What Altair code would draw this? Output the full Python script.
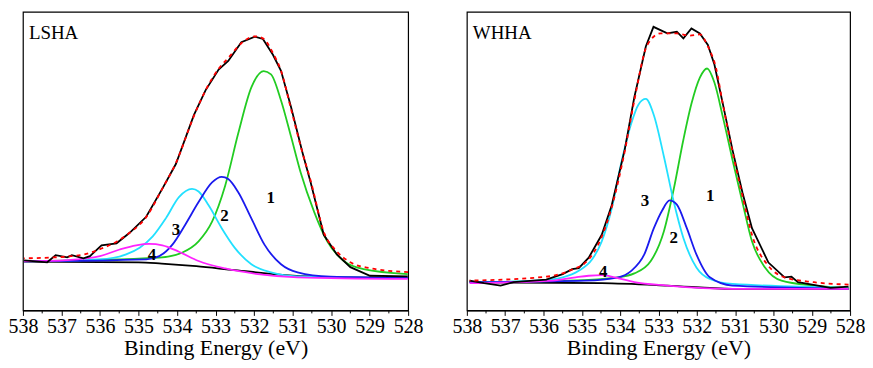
import altair as alt
import pandas as pd

# ---------------- LSHA (left panel) ----------------
ls_exp_E = [537.97, 537.37, 537.15, 536.85, 536.73, 536.43, 536.26, 535.96, 535.57, 535.23, 534.80,
            534.38, 534.03, 533.56, 533.26, 532.92, 532.67, 532.33, 531.98, 531.77, 531.51, 531.30,
            531.04, 530.74, 530.53, 530.19, 529.85, 529.50, 528.99, 528.01]
ls_exp_I = [51, 49, 56.3, 54, 56.3, 53, 55.3, 66.3, 68.3, 79, 95.3,
            124, 149, 199, 224, 245.3, 254, 273, 278.7, 276.3, 260.3, 244,
            207, 160.3, 130.3, 77, 57, 44, 35.3, 34.7]
ls_fit_E = [537.97, 536.8, 536.4, 535.96, 535.57, 535.23, 534.8, 534.38, 534.03, 533.56, 533.26,
            532.92, 532.67, 532.33, 531.98, 531.77, 531.51, 531.30, 531.04, 530.74, 530.53, 530.19,
            529.85, 529.5, 529.0, 528.0]
ls_fit_I = [53, 55, 57, 63, 70, 79, 95, 124, 150, 198, 224,
            246, 257, 272, 279, 277, 262, 244, 205, 160, 132, 80,
            60, 49, 43, 39]
ls_bg_E = [537.97, 535.0, 534.4, 533.5, 532.5, 531.0, 530.0, 528.0]
ls_bg_I = [49.7, 49, 47.7, 45, 41, 35.5, 34, 33]
ls_p1_E = [537.97, 534.46, 533.86, 533.44, 533.09, 532.75, 532.41, 532.07, 531.75, 531.56, 531.30,
           531.04, 530.79, 530.44, 530.10, 529.67, 529.16, 528.01]
ls_p1_I = [50, 53.7, 59, 70.3, 90.3, 127, 180.3, 227, 243.7, 240.3, 213.7,
           177, 140.3, 100.3, 70.3, 50.3, 42, 37]
ls_p2_E = [537.97, 534.80, 534.46, 534.12, 533.79, 533.44, 533.09, 532.84, 532.67, 532.41, 532.07,
           531.73, 531.30, 530.87, 530.02, 528.01]
ls_p2_I = [50, 52, 55.3, 67, 87, 110.3, 130.3, 136, 133.7, 120.3, 93.7,
           67, 47, 38.7, 34.3, 33]
ls_p3_E = [537.97, 536.0, 535.32, 534.97, 534.63, 534.29, 533.95, 533.61, 533.44, 533.18, 532.84,
           532.50, 532.07, 531.56, 530.87, 528.01]
ls_p3_I = [50, 52, 57, 63.7, 75.3, 93.7, 115.3, 123.7, 121, 107, 83.7,
           63.7, 47, 38.7, 34.7, 33]
ls_p4_E = [537.97, 536.85, 536.0, 535.49, 535.06, 534.72, 534.38, 533.95, 533.44, 532.75, 531.90,
           530.87, 528.01]
ls_p4_I = [50, 51.3, 55.3, 62, 66.3, 67.7, 66.3, 59.7, 50.3, 42.7, 37,
           33.7, 32]
ls_lab_E = [531.57, 532.77, 534.03, 534.65]
ls_lab_I = [114.3, 96, 82, 56.3]

# ---------------- WHHA (right panel) ----------------
wh_exp_E = [537.93, 537.55, 537.12, 536.78, 535.93, 535.50, 535.25, 535.08, 534.82, 534.48, 534.22,
            533.88, 533.63, 533.33, 533.13, 532.77, 532.52, 532.35, 532.14, 531.92, 531.71, 531.54,
            531.32, 531.07, 530.81, 530.56, 530.13, 529.71, 529.53, 529.36, 528.51, 528.04]
wh_exp_I = [30.3, 27.7, 25.3, 28.7, 31.3, 37, 42, 43, 53.7, 77, 107,
            163.7, 217, 268.7, 288.7, 282, 283.7, 277, 287, 282, 270.3, 250.3,
            210.3, 163.7, 120.3, 83.7, 48.7, 33.7, 34.3, 28.7, 23, 24.3]
wh_fit_E = [537.93, 535.93, 535.33, 534.82, 534.48, 534.22, 533.88, 533.63, 533.29, 532.94, 532.52,
            532.18, 531.92, 531.71, 531.50, 531.32, 531.07, 530.81, 530.56, 530.13, 529.71, 528.94,
            528.04]
wh_fit_I = [30.3, 34.3, 40.3, 52, 75, 105, 162, 213.7, 270.3, 282, 282,
            279.7, 281, 268.7, 247, 210, 162, 117, 77, 45.3, 33.7, 28.7,
            26.3]
wh_bg_E = [537.93, 534.48, 532.77, 531.07, 528.04]
wh_bg_I = [28.7, 27.7, 25.3, 22, 22]
wh_p1_E = [537.93, 535.33, 534.05, 533.63, 533.20, 532.86, 532.60, 532.35, 532.14, 531.92, 531.73,
           531.54, 531.32, 531.07, 530.81, 530.56, 530.22, 529.79, 528.94, 528.04]
wh_p1_I = [28.7, 30.3, 33.7, 37.7, 50.3, 80.3, 123.7, 173.7, 210.3, 237, 246.3,
           232, 197, 153.7, 110.3, 70.3, 43.7, 30.3, 25.3, 23]
wh_p2_E = [537.93, 534.91, 534.05, 533.71, 533.37, 533.12, 532.90, 532.71, 532.52, 532.26, 532.01,
           531.66, 531.07, 528.04]
wh_p2_I = [28.7, 30.3, 33.7, 40.3, 57, 83.7, 102, 112, 107.7, 83.7, 57,
           33.7, 25.3, 22]
wh_p3_E = [537.93, 536.18, 535.50, 535.08, 534.73, 534.48, 534.22, 533.97, 533.71, 533.52, 533.33,
           533.12, 532.86, 532.60, 532.35, 532.01, 531.66, 531.07, 528.04]
wh_p3_I = [28.7, 30.3, 33.7, 40.3, 52, 70.3, 103.7, 150.3, 190.3, 209.7, 215.3,
           198.7, 157, 110.3, 73.7, 43.7, 32, 27, 23]
wh_p4_E = [537.93, 535.76, 535.16, 534.82, 534.48, 534.14, 533.63, 532.77, 531.07, 528.04]
wh_p4_I = [27.7, 30.3, 33.7, 35.3, 36, 33.7, 28.7, 25.3, 22, 22]
wh_lab_E = [531.65, 532.60, 533.35, 534.44]
wh_lab_I = [116.3, 73.7, 111.3, 38.7]

peak_labels = ["1", "2", "3", "4"]
major_ticks = list(range(528, 539))
minor_ticks = [528.5 + i for i in range(10)]

SERIES = [
    ("bg", "#000000", None, "monotone"),
    ("p1", "#22cc22", None, "monotone"),
    ("p3", "#22e0ff", None, "monotone"),
    ("p2", "#1a1aee", None, "monotone"),
    ("p4", "#ff22ff", None, "monotone"),
    ("exp", "#000000", None, "linear"),
    ("fit", "#ff0000", [4, 4], "monotone"),
]

FONT = "Liberation Serif"
H = 300


def panel(name, series, lab_E, lab_I, width):
    xs = alt.Scale(domain=[528, 538], reverse=True, nice=False, zero=False)
    ys = alt.Scale(domain=[0, 304], nice=False, zero=False)
    xaxis = alt.Axis(values=major_ticks, format="d", title="Binding Energy (eV)",
                     grid=False, tickSize=5, labelPadding=1, labelOverlap=False,
                     labelFlush=False, titlePadding=1)
    X = alt.X("E:Q", scale=xs, axis=xaxis)
    Y = alt.Y("I:Q", scale=ys, axis=None)
    layers = []
    for key, color, dash, interp in SERIES:
        E, I = series[key]
        df = pd.DataFrame({"E": E, "I": I})
        kw = {"strokeDash": dash} if dash else {}
        layers.append(
            alt.Chart(df).mark_line(color=color, strokeWidth=1.8, interpolate=interp, clip=True, **kw)
            .encode(x=X, y=Y, order=alt.Order("E:Q"))
        )
    minor = alt.Chart(pd.DataFrame({"E": minor_ticks})).mark_rule(color="black", strokeWidth=1).encode(
        x=X, y=alt.value(H), y2=alt.value(H + 3))
    layers.append(minor)
    labs = alt.Chart(pd.DataFrame({"E": lab_E, "I": lab_I, "t": peak_labels})).mark_text(
        font=FONT, fontSize=17, fontWeight="bold", color="black", align="center", baseline="middle"
    ).encode(x=X, y=Y, text="t:N")
    layers.append(labs)
    title = alt.Chart(pd.DataFrame({"t": [name]})).mark_text(
        font=FONT, fontSize=19, color="black", align="left", baseline="middle"
    ).encode(x=alt.value(6), y=alt.value(21), text="t:N")
    layers.append(title)
    return alt.layer(*layers).properties(width=width, height=H)


left = panel("LSHA", {
    "bg": (ls_bg_E, ls_bg_I), "p1": (ls_p1_E, ls_p1_I), "p2": (ls_p2_E, ls_p2_I),
    "p3": (ls_p3_E, ls_p3_I), "p4": (ls_p4_E, ls_p4_I), "exp": (ls_exp_E, ls_exp_I),
    "fit": (ls_fit_E, ls_fit_I)}, ls_lab_E, ls_lab_I, 387)
right = panel("WHHA", {
    "bg": (wh_bg_E, wh_bg_I), "p1": (wh_p1_E, wh_p1_I), "p2": (wh_p2_E, wh_p2_I),
    "p3": (wh_p3_E, wh_p3_I), "p4": (wh_p4_E, wh_p4_I), "exp": (wh_exp_E, wh_exp_I),
    "fit": (wh_fit_E, wh_fit_I)}, wh_lab_E, wh_lab_I, 385)

chart = alt.hconcat(left, right, spacing=27).properties(
    padding={"left": -1, "top": 2, "right": -1, "bottom": 0},
    background="white",
).configure_view(stroke="black", strokeWidth=1.2).configure_axis(
    labelFont=FONT, labelFontSize=20, labelColor="black",
    titleFont=FONT, titleFontSize=22, titleFontWeight="normal", titleColor="black",
    domainColor="black", tickColor="black", domainWidth=1.2, tickWidth=1,
)

chart.save("out.html", embed_options={"renderer": "svg", "actions": False})
